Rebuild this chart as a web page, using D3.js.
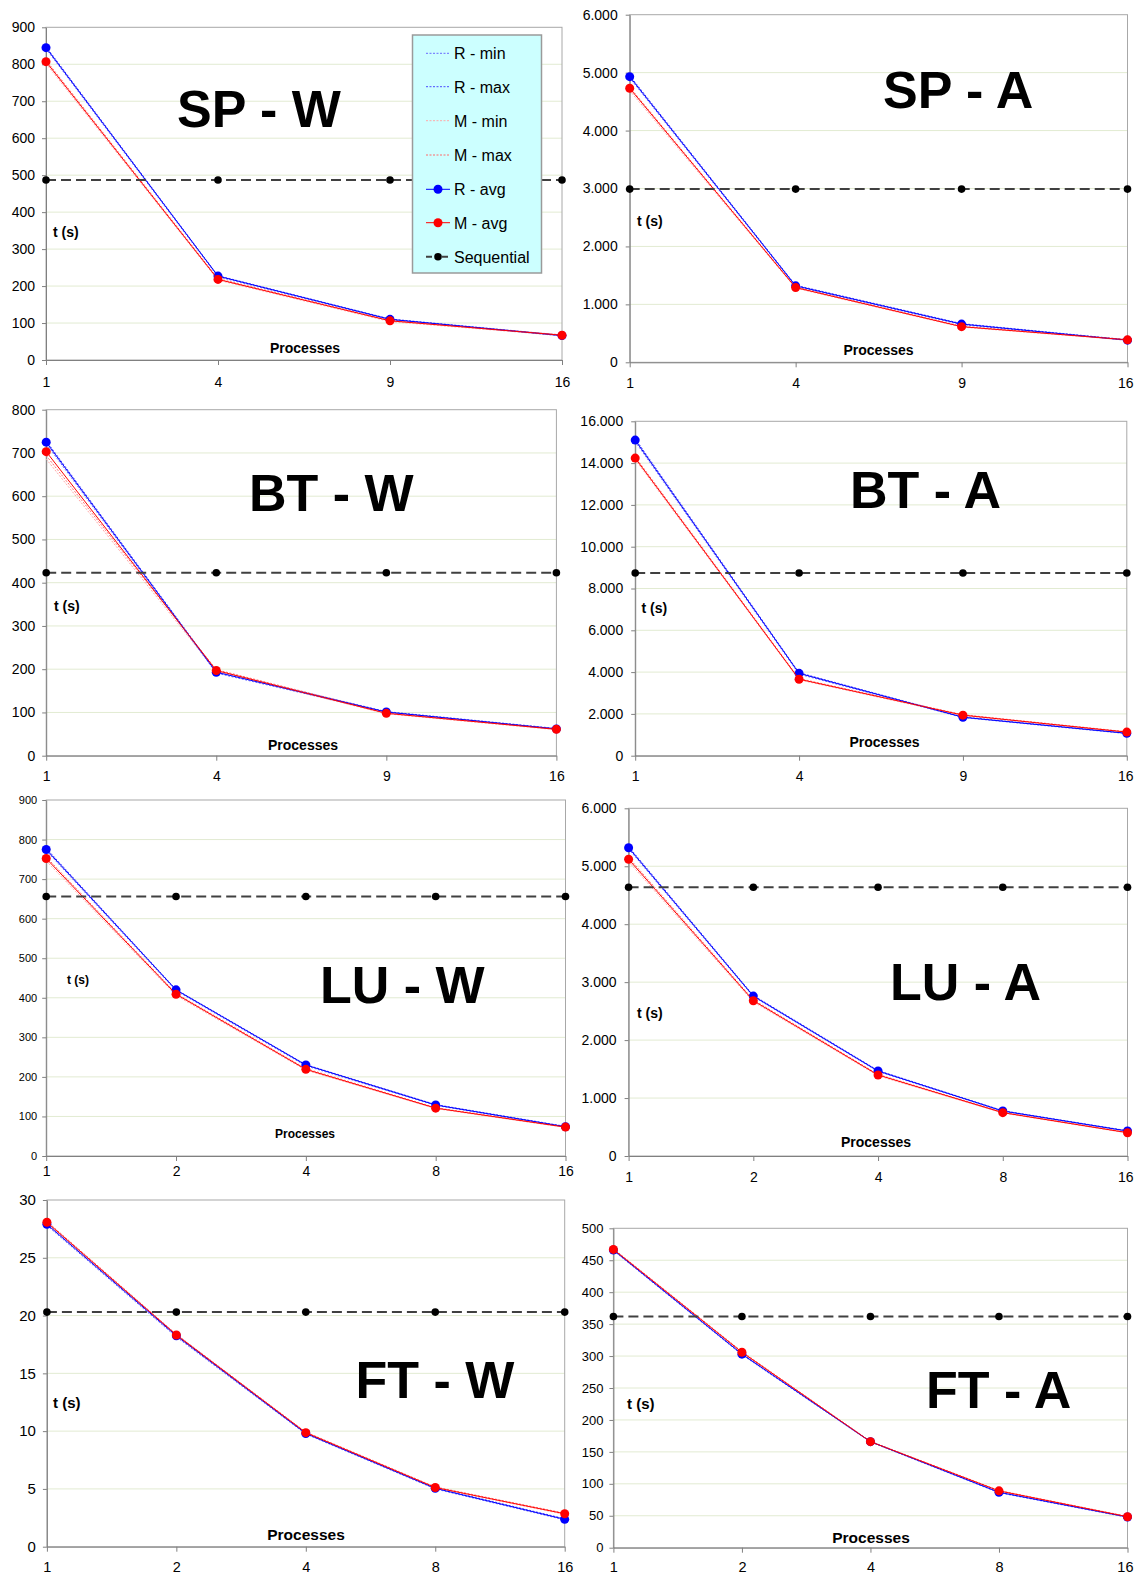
<!DOCTYPE html>
<html>
<head>
<meta charset="utf-8">
<script src="https://cdn.jsdelivr.net/npm/d3@7"></script>
<style>
  body { margin: 0; background: #fff; }
  svg { display: block; }
  text { font-family: "Liberation Sans", Arial, sans-serif; }
</style>
</head>
<body>
<svg id="chart" width="1134" height="1574"></svg>
<script>
// ---- Process counts on the x axis ----
const procsSquare = ["1", "4", "9", "16"];
const procsPow2 = ["1", "2", "4", "8", "16"];

// ---- Series names ----
const seriesNames = ["R - min", "R - max", "M - min", "M - max", "R - avg", "M - avg", "Sequential"];

// ---- SP, class W (seconds) ----
const spW_rMin = [842, 225, 109, 65];
const spW_rMax = [848, 228, 111, 67];
const spW_mMin = [802, 216, 104, 66];
const spW_mMax = [811, 220, 107, 68];
const spW_rAvg = [845, 227, 110, 66];
const spW_mAvg = [807, 218, 106, 67];
const spW_seq = [487, 487, 487, 487];
const spW_ticks = [0, 100, 200, 300, 400, 500, 600, 700, 800, 900];

// ---- SP, class A ----
const spA_rMin = [4910, 1310, 650, 378];
const spA_rMax = [4950, 1330, 668, 388];
const spA_mMin = [4690, 1280, 608, 382];
const spA_mMax = [4750, 1298, 622, 393];
const spA_rAvg = [4930, 1320, 660, 382];
const spA_mAvg = [4730, 1290, 615, 388];
const spA_seq = [2990, 2990, 2990, 2990];
const spA_ticks = [0, 1000, 2000, 3000, 4000, 5000, 6000];

// ---- BT, class W ----
const btW_rMin = [721, 191, 100, 61];
const btW_rMax = [728, 195, 102, 63];
const btW_mMin = [686, 195, 97, 60];
const btW_mMax = [694, 199, 100, 62];
const btW_rAvg = [725, 193, 101, 62];
const btW_mAvg = [703, 197, 98, 61];
const btW_seq = [423, 423, 423, 423];
const btW_ticks = [0, 100, 200, 300, 400, 500, 600, 700, 800];

// ---- BT, class A ----
const btA_rMin = [15030, 3900, 1825, 1055];
const btA_rMax = [15170, 3970, 1855, 1085];
const btA_mMin = [14170, 3630, 1915, 1115];
const btA_mMax = [14300, 3690, 1960, 1145];
const btA_rAvg = [15100, 3940, 1840, 1070];
const btA_mAvg = [14240, 3660, 1940, 1130];
const btA_seq = [8740, 8740, 8740, 8740];
const btA_ticks = [0, 2000, 4000, 6000, 8000, 10000, 12000, 14000, 16000];

// ---- LU, class W ----
const luW_rMin = [772, 418, 228, 128, 73];
const luW_rMax = [778, 421, 231, 130, 75];
const luW_mMin = [746, 406, 217, 120, 72];
const luW_mMax = [756, 411, 221, 122, 74];
const luW_rAvg = [775, 420, 230, 129, 74];
const luW_mAvg = [752, 409, 219, 121, 73];
const luW_seq = [656, 656, 656, 656, 656];
const luW_ticks = [0, 100, 200, 300, 400, 500, 600, 700, 800, 900];

// ---- LU, class A ----
const luA_rMin = [5300, 2750, 1458, 772, 427];
const luA_rMax = [5340, 2772, 1476, 782, 436];
const luA_mMin = [5080, 2660, 1385, 742, 397];
const luA_mMax = [5150, 2695, 1408, 753, 407];
const luA_rAvg = [5320, 2760, 1467, 777, 431];
const luA_mAvg = [5120, 2680, 1398, 748, 402];
const luA_seq = [4637, 4637, 4637, 4637, 4637];
const luA_ticks = [0, 1000, 2000, 3000, 4000, 5000, 6000];

// ---- FT, class W ----
const ftW_rMin = [27.8, 18.15, 9.75, 5.0, 2.32];
const ftW_rMax = [28.0, 18.35, 9.85, 5.1, 2.42];
const ftW_mMin = [27.98, 18.25, 9.82, 5.08, 2.8];
const ftW_mMax = [28.15, 18.38, 9.92, 5.17, 2.9];
const ftW_rAvg = [27.9, 18.25, 9.8, 5.05, 2.37];
const ftW_mAvg = [28.07, 18.32, 9.87, 5.12, 2.85];
const ftW_seq = [20.3, 20.3, 20.3, 20.3, 20.3];
const ftW_ticks = [0, 5, 10, 15, 20, 25, 30];

// ---- FT, class A ----
const ftA_rMin = [465, 302, 165.5, 86, 47.5];
const ftA_rMax = [467, 304, 166.5, 87.5, 48.5];
const ftA_mMin = [466, 305, 165.5, 88.5, 48];
const ftA_mMax = [468, 307, 166.5, 89.5, 49];
const ftA_rAvg = [466, 303, 166, 86.7, 48];
const ftA_mAvg = [467, 306, 166, 89, 48.5];
const ftA_seq = [362, 362, 362, 362, 362];
const ftA_ticks = [0, 50, 100, 150, 200, 250, 300, 350, 400, 450, 500];

// ---- Series styles, same order as seriesNames ----
const seriesStyle = [
  { color: "#6a6aff", dash: "2,1.5", width: 1, marker: 0 },
  { color: "#4a4aff", dash: "2,1.5", width: 1, marker: 0 },
  { color: "#ffa8a8", dash: "2,1.5", width: 1, marker: 0 },
  { color: "#ff6a6a", dash: "2,1.5", width: 1, marker: 0 },
  { color: "#0000ff", dash: null, width: 1, marker: 4.5, markerFill: "#0000ff" },
  { color: "#ff0000", dash: null, width: 1, marker: 4.5, markerFill: "#ff0000" },
  { color: "#404040", dash: "10,5", width: 2, marker: 3.8, markerFill: "#000000" }
];

// European number format: 16000 -> "16.000"
const fmt = d3.formatLocale({ decimal: ",", thousands: ".", grouping: [3], currency: ["", ""] }).format(",");

// ---- Panel layout ----
const panels = [
  { title: "SP - W", cats: procsSquare, data: [spW_rMin, spW_rMax, spW_mMin, spW_mMax, spW_rAvg, spW_mAvg, spW_seq],
    ticks: spW_ticks, l: 46, r: 562, t: 27.3, b: 360, tickFs: 14, yGap: 11, xFs: 14, xOff: 26.7,
    tX: 53, tY: 236.5, tFs: 14, pX: 305, pY: 353.3, pFs: 14, titleX: 177, titleY: 126.7, legend: true },
  { title: "SP - A", cats: procsSquare, data: [spA_rMin, spA_rMax, spA_mMin, spA_mMax, spA_rAvg, spA_mAvg, spA_seq],
    ticks: spA_ticks, l: 629.7, r: 1127.5, t: 14.7, b: 362.3, tickFs: 14, yGap: 12, xFs: 14, xOff: 26.2,
    tX: 637, tY: 225.5, tFs: 14, pX: 878.5, pY: 355, pFs: 14, titleX: 883, titleY: 108.3 },
  { title: "BT - W", cats: procsSquare, data: [btW_rMin, btW_rMax, btW_mMin, btW_mMax, btW_rAvg, btW_mAvg, btW_seq],
    ticks: btW_ticks, l: 46.2, r: 556.4, t: 409.7, b: 755.7, tickFs: 14, yGap: 11, xFs: 14, xOff: 25.8,
    tX: 54, tY: 610.5, tFs: 14, pX: 303, pY: 750, pFs: 14, titleX: 249, titleY: 510.7 },
  { title: "BT - A", cats: procsSquare, data: [btA_rMin, btA_rMax, btA_mMin, btA_mMax, btA_rAvg, btA_mAvg, btA_seq],
    ticks: btA_ticks, l: 635.2, r: 1126.8, t: 421.3, b: 755.7, tickFs: 14, yGap: 12, xFs: 14, xOff: 25.8,
    tX: 641.5, tY: 612.8, tFs: 14, pX: 884.5, pY: 747.3, pFs: 14, titleX: 850, titleY: 508.3 },
  { title: "LU - W", cats: procsPow2, data: [luW_rMin, luW_rMax, luW_mMin, luW_mMax, luW_rAvg, luW_mAvg, luW_seq],
    ticks: luW_ticks, l: 46.2, r: 565.5, t: 800, b: 1156, tickFs: 11, yGap: 9, xFs: 14, xOff: 19.7,
    tX: 67, tY: 984, tFs: 12, pX: 305, pY: 1138.3, pFs: 12, titleX: 320, titleY: 1003.3 },
  { title: "LU - A", cats: procsPow2, data: [luA_rMin, luA_rMax, luA_mMin, luA_mMax, luA_rAvg, luA_mAvg, luA_seq],
    ticks: luA_ticks, l: 628.6, r: 1127.5, t: 808.3, b: 1156, tickFs: 14, yGap: 12, xFs: 14, xOff: 25.5,
    tX: 637, tY: 1017.8, tFs: 14, pX: 876, pY: 1147.3, pFs: 14, titleX: 890, titleY: 1000 },
  { title: "FT - W", cats: procsPow2, data: [ftW_rMin, ftW_rMax, ftW_mMin, ftW_mMax, ftW_rAvg, ftW_mAvg, ftW_seq],
    ticks: ftW_ticks, l: 46.9, r: 564.7, t: 1200, b: 1546.7, tickFs: 15, yGap: 11, xFs: 14.5, xOff: 25.5,
    tX: 53, tY: 1408.3, tFs: 15, pX: 306, pY: 1539.6, pFs: 15.5, titleX: 355.5, titleY: 1398.3 },
  { title: "FT - A", cats: procsPow2, data: [ftA_rMin, ftA_rMax, ftA_mMin, ftA_mMax, ftA_rAvg, ftA_mAvg, ftA_seq],
    ticks: ftA_ticks, l: 613.4, r: 1127.5, t: 1228.3, b: 1547.7, tickFs: 13, yGap: 10, xFs: 14.5, xOff: 24,
    tX: 627, tY: 1409.3, tFs: 15, pX: 871, pY: 1543.3, pFs: 15.5, titleX: 926, titleY: 1408.3 }
];

const W = 1134;
const svg = d3.select("#chart");
svg.append("rect").attr("width", W).attr("height", 1574).attr("fill", "#fff");

function drawPanel(p) {
  const g = svg.append("g");
  const x = d3.scalePoint().domain(p.cats).range([p.l, p.r]).padding(0);
  const yMax = p.ticks[p.ticks.length - 1];
  const y = d3.scaleLinear().domain([0, yMax]).range([p.b, p.t]);

  // horizontal gridlines
  g.append("g").selectAll("line")
    .data(p.ticks.filter(v => v > 0 && v < yMax))
    .join("line")
    .attr("x1", p.l).attr("x2", p.r)
    .attr("y1", d => y(d)).attr("y2", d => y(d))
    .attr("stroke", "#e2ebd2").attr("stroke-width", 1);

  // plot area frame
  g.append("rect")
    .attr("x", p.l).attr("y", y(yMax))
    .attr("width", p.r - p.l).attr("height", p.b - y(yMax))
    .attr("fill", "none").attr("stroke", "#a8a8a8").attr("stroke-width", 1);

  // y axis
  const ya = g.append("g").attr("transform", `translate(${p.l},0)`)
    .call(d3.axisLeft(y).tickValues(p.ticks).tickFormat(fmt).tickSize(4).tickSizeOuter(0).tickPadding(p.yGap - 4));
  ya.select(".domain").attr("stroke", "#808080");
  ya.selectAll(".tick line").attr("stroke", "#808080");
  ya.selectAll(".tick text").attr("fill", "#000").style("font-size", p.tickFs + "px")
    .style("font-family", "'Liberation Sans', Arial, sans-serif");

  // x axis
  const xa = g.append("g").attr("transform", `translate(0,${p.b})`)
    .call(d3.axisBottom(x).tickSize(5).tickSizeOuter(0));
  xa.select(".domain").attr("stroke", "#808080");
  xa.selectAll(".tick line").attr("stroke", "#808080");
  xa.selectAll(".tick text").attr("fill", "#000").attr("y", p.xOff).attr("dy", null)
    .style("font-size", p.xFs + "px").style("font-family", "'Liberation Sans', Arial, sans-serif")
    .each(function (d) {
      // keep the last label inside the page edge
      const w = this.getComputedTextLength();
      const over = x(d) + w / 2 - (W - 1);
      if (over > 0) d3.select(this).attr("x", -over);
    });

  // series lines and markers
  p.data.forEach((vals, i) => {
    const st = seriesStyle[i];
    const line = d3.line().x((d, j) => x(p.cats[j])).y(d => y(d));
    g.append("path").datum(vals)
      .attr("d", line)
      .attr("fill", "none")
      .attr("stroke", st.color)
      .attr("stroke-width", st.width)
      .attr("stroke-dasharray", st.dash);
    if (st.marker) {
      g.append("g").selectAll("circle").data(vals).join("circle")
        .attr("cx", (d, j) => x(p.cats[j]))
        .attr("cy", d => y(d))
        .attr("r", st.marker)
        .attr("fill", st.markerFill);
    }
  });

  // axis captions
  g.append("text").attr("x", p.tX).attr("y", p.tY)
    .attr("font-weight", "bold").attr("font-size", p.tFs).text("t (s)");
  g.append("text").attr("x", p.pX).attr("y", p.pY).attr("text-anchor", "middle")
    .attr("font-weight", "bold").attr("font-size", p.pFs).text("Processes");

  // benchmark / class title
  g.append("text").attr("x", p.titleX).attr("y", p.titleY)
    .attr("font-weight", "bold").attr("font-size", 52).text(p.title);

  if (p.legend) drawLegend(g);
}

function drawLegend(g) {
  const lx = 412.5, ly = 35, lw = 129, lh = 238;
  g.append("rect").attr("x", lx).attr("y", ly).attr("width", lw).attr("height", lh)
    .attr("fill", "#ccffff").attr("stroke", "#9a9a9a").attr("stroke-width", 1.5);
  const rowY = [53.3, 86.7, 120.7, 155, 189.3, 222.7, 256.7];
  seriesNames.forEach((name, i) => {
    const st = seriesStyle[i];
    const yy = rowY[i];
    g.append("line").attr("x1", 426).attr("x2", 450).attr("y1", yy).attr("y2", yy)
      .attr("stroke", st.color).attr("stroke-width", st.width)
      .attr("stroke-dasharray", i === 6 ? "6,4,2,4" : st.dash);
    if (st.marker) {
      g.append("circle").attr("cx", 438).attr("cy", yy).attr("r", st.marker)
        .attr("fill", st.markerFill);
    }
    g.append("text").attr("x", 454).attr("y", yy + 6).attr("font-size", 16).attr("fill", "#000").text(name);
  });
}

panels.forEach(drawPanel);
</script>
</body>
</html>
